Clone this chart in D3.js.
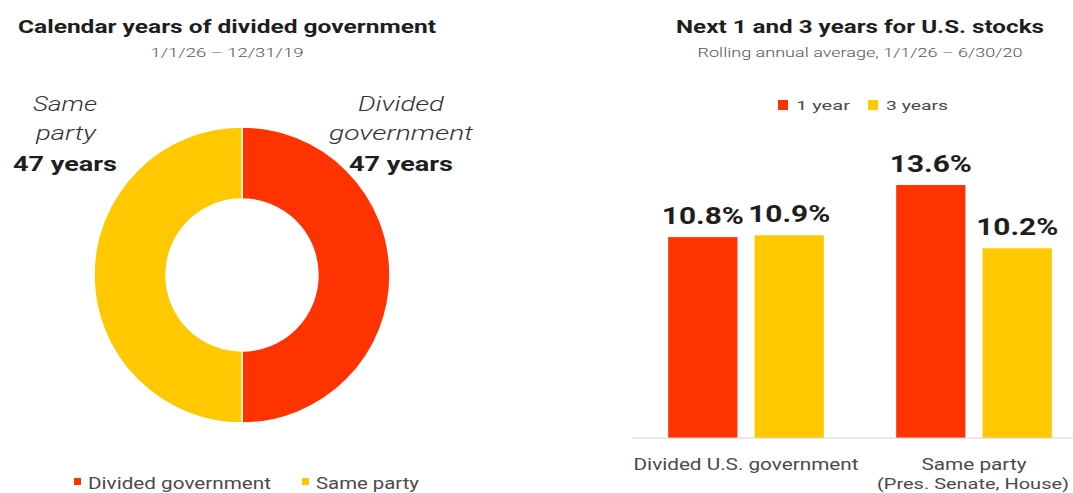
<!DOCTYPE html>
<html>
<head>
<meta charset="utf-8">
<script src="https://cdn.jsdelivr.net/npm/d3@7"></script>
<style>
  html, body { margin: 0; padding: 0; background: #fff; overflow: hidden; }
  svg { display: block; font-family: Roboto, "Open Sans", sans-serif; }
</style>
</head>
<body>
<svg id="chart" width="1073" height="493"></svg>
<script>
// Left panel: years of divided vs. same-party government
const donutLabels = ["Divided government", "Same party"];
const donutYears = [47, 47];
const donutCalloutTop = ["Divided", "Same"];
const donutCalloutMid = ["government", "party"];

// Right panel: rolling annual average returns
const barCategories = ["Divided U.S. government", "Same party"];
const barCategorySub = ["", "(Pres. Senate, House)"];
const seriesNames = ["1 year", "3 years"];
const oneYear = [10.8, 13.6];
const threeYears = [10.9, 10.2];

const RED = "#ff3300";
const YELLOW = "#ffc800";
const colors = [RED, YELLOW];
const DARK = "#1e1e1e";
const GREY = "#4a4a4a";

const svg = d3.select("#chart");

// Text helper: the house typeface runs wide, so stretch each line to its set width
function label(parent, txt, x, yPos, opts) {
  const t = parent.append("text")
    .attr("x", x).attr("y", yPos)
    .attr("text-anchor", opts.anchor || "middle")
    .attr("font-size", opts.size)
    .attr("font-weight", opts.weight || 400)
    .attr("font-style", opts.italic ? "italic" : "normal")
    .attr("fill", opts.fill || DARK)
    .text(txt);
  if (opts.width) t.attr("textLength", opts.width).attr("lengthAdjust", "spacingAndGlyphs");
  return t;
}

// ---------- Donut ----------
const left = svg.append("g");
label(left, "Calendar years of divided government", 227, 33, { size: 19, weight: 700, width: 418 });
label(left, "1/1/26 \u2013 12/31/19", 227, 57, { size: 13, weight: 300, fill: "#555", width: 153 });

const cx = 242, cy = 275;
const pie = d3.pie().sort(null).value(d => d.years);
const arc = d3.arc().innerRadius(76).outerRadius(148);
const donutData = donutLabels.map((l, i) => ({ label: l, years: donutYears[i], color: colors[i] }));
const dg = left.append("g").attr("transform", `translate(${cx},${cy})`);
dg.selectAll("path").data(pie(donutData)).join("path")
  .attr("d", arc).attr("fill", d => d.data.color)
  .attr("stroke", "#fff").attr("stroke-width", 1.5);

// Callout text beside each half
label(left, donutCalloutTop[0], 401, 111, { size: 21, weight: 300, italic: true, fill: "#333", width: 86 });
label(left, donutCalloutMid[0], 401, 140, { size: 21, weight: 300, italic: true, fill: "#333", width: 144 });
label(left, `${donutYears[0]} years`, 401, 171, { size: 21, weight: 700, width: 104 });
label(left, donutCalloutTop[1], 65, 111, { size: 21, weight: 300, italic: true, fill: "#333", width: 64 });
label(left, donutCalloutMid[1], 66, 140, { size: 21, weight: 300, italic: true, fill: "#333", width: 60 });
label(left, `${donutYears[1]} years`, 65, 171, { size: 21, weight: 700, width: 104 });

// Bottom legend
const legendX = [74, 302];
const legendW = [183, 103];
donutLabels.forEach((l, i) => {
  left.append("rect").attr("x", legendX[i]).attr("y", 478).attr("width", 7).attr("height", 7).attr("fill", colors[i]);
  label(left, l, legendX[i] + 14, 489, { size: 16, anchor: "start", fill: GREY, width: legendW[i] });
});

// ---------- Grouped bars ----------
const right = svg.append("g");
label(right, "Next 1 and 3 years for U.S. stocks", 860, 33, { size: 19, weight: 700, width: 368 });
label(right, "Rolling annual average, 1/1/26 \u2013 6/30/20", 860, 57, { size: 12, weight: 300, fill: "#555", width: 325 });

// Series legend
const slx = [778, 868];
const slw = [54, 62];
seriesNames.forEach((s, i) => {
  right.append("rect").attr("x", slx[i]).attr("y", 100).attr("width", 10).attr("height", 10).attr("fill", colors[i]);
  label(right, s, slx[i] + 18, 110, { size: 13, anchor: "start", fill: GREY, width: slw[i] });
});

const y = d3.scaleLinear().domain([0, 15]).range([438, 159]);
const x0 = d3.scaleBand().domain(barCategories).range([632, 1088]).padding(0);
const x1 = d3.scaleBand().domain(seriesNames).range([0, x0.bandwidth()])
  .paddingInner(0.198).paddingOuter(0.419);

const rows = barCategories.map((c, i) => ({
  cat: c,
  vals: [
    { s: seriesNames[0], v: oneYear[i], color: colors[0] },
    { s: seriesNames[1], v: threeYears[i], color: colors[1] }
  ]
}));

const groups = right.selectAll("g.grp").data(rows).join("g").attr("class", "grp")
  .attr("transform", d => `translate(${x0(d.cat)},0)`);
groups.selectAll("rect").data(d => d.vals).join("rect")
  .attr("x", d => x1(d.s)).attr("width", x1.bandwidth())
  .attr("y", d => y(d.v)).attr("height", d => y(0) - y(d.v))
  .attr("fill", d => d.color);
groups.selectAll("text.val").data(d => d.vals).join("text").attr("class", "val")
  .attr("x", d => x1(d.s) + x1.bandwidth() / 2)
  .attr("y", d => y(d.v) - 13)
  .attr("text-anchor", "middle")
  .attr("font-size", 24).attr("font-weight", 700).attr("fill", DARK)
  .attr("textLength", 82).attr("lengthAdjust", "spacingAndGlyphs")
  .text(d => d.v.toFixed(1) + "%");

// Baseline axis
const xAxis = d3.axisBottom(x0).tickSize(0).tickFormat("");
const axG = right.append("g").attr("transform", `translate(0,${y(0)})`).call(xAxis);
axG.select(".domain").attr("stroke", "#d4d4d4").attr("stroke-width", 1)
  .attr("d", "M632,0H1073");

// Category labels
const catW = [225, 105];
barCategories.forEach((c, i) => {
  const cxp = x0(c) + x0.bandwidth() / 2;
  label(right, c, cxp, 470, { size: 16, fill: GREY, width: catW[i] });
  if (barCategorySub[i]) {
    label(right, barCategorySub[i], cxp - 1, 489, { size: 15, fill: GREY, width: 192 });
  }
});
</script>
</body>
</html>
